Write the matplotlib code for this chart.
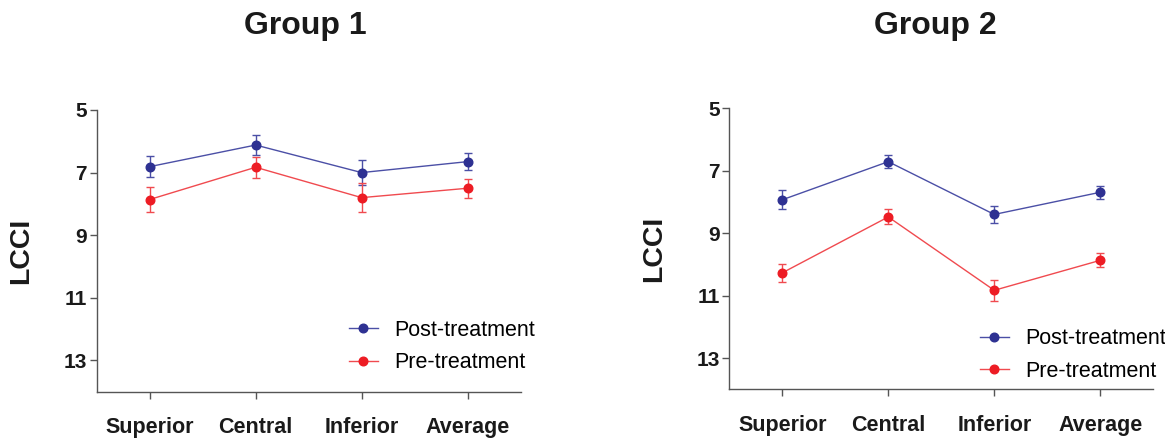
import matplotlib
matplotlib.use("Agg")
import matplotlib.pyplot as plt

plt.rcParams['font.family'] = ['Liberation Sans', 'DejaVu Sans']

regions = ["Superior", "Central", "Inferior", "Average"]

# Group 1
g1_post = [6.81, 6.12, 7.00, 6.65]
g1_post_err = [0.33, 0.32, 0.40, 0.28]
g1_pre = [7.86, 6.83, 7.80, 7.50]
g1_pre_err = [0.41, 0.33, 0.46, 0.31]

# Group 2
g2_post = [7.93, 6.71, 8.40, 7.69]
g2_post_err = [0.31, 0.20, 0.28, 0.20]
g2_pre = [10.27, 8.48, 10.83, 9.87]
g2_pre_err = [0.28, 0.24, 0.34, 0.22]

y_ticks = [5, 7, 9, 11, 13]

blue = '#2E3192'
blue_line = '#4B4FA6'
red = '#ED1C24'
red_line = '#F04A4F'


def draw_panel(ax, post, post_err, pre, pre_err, legend_anchor):
    x = range(len(regions))
    ax.errorbar(x, post, yerr=post_err, color=blue_line, lw=1.0, marker='o',
                ms=6.2, mfc=blue, mec=blue, capsize=3.2, elinewidth=1.0,
                capthick=1.0, label="Post-treatment", zorder=3)
    ax.errorbar(x, pre, yerr=pre_err, color=red_line, lw=1.0, marker='o',
                ms=6.2, mfc=red, mec=red, capsize=3.2, elinewidth=1.0,
                capthick=1.0, label="Pre-treatment", zorder=3)
    ax.set_xlim(-0.5, 3.5)
    ax.set_ylim(14, 5)
    ax.set_yticks(y_ticks)
    ax.set_xticks(list(x))
    ax.set_xticklabels(regions, fontsize=15.5, fontweight='bold', color='#1a1a1a')
    ax.set_yticklabels([str(t) for t in y_ticks], fontsize=15, fontweight='bold',
                       color='#1a1a1a')
    for s in ['top', 'right']:
        ax.spines[s].set_visible(False)
    for s in ['left', 'bottom']:
        ax.spines[s].set_color('#555555')
        ax.spines[s].set_linewidth(1.0)
    ax.tick_params(axis='both', direction='out', length=5, width=1.0,
                   color='#555555')
    ax.tick_params(axis='x', pad=13.5)
    ax.tick_params(axis='y', pad=2)
    ax.set_ylabel("LCCI", fontsize=20.5, fontweight='bold', color='#1a1a1a')
    handles, labels = ax.get_legend_handles_labels()
    handles = [h[0] for h in handles]
    ax.legend(handles, labels, loc='center left', bbox_to_anchor=legend_anchor,
              frameon=False, fontsize=15.5, handlelength=1.35,
              handletextpad=0.75, labelspacing=0.52, borderpad=0,
              borderaxespad=0)


fig = plt.figure(figsize=(11.65, 4.38), dpi=100)
ax1 = fig.add_axes([0.0830, 0.1057, 0.3639, 0.6432])
ax2 = fig.add_axes([0.6260, 0.1112, 0.3639, 0.6416])

draw_panel(ax1, g1_post, g1_post_err, g1_pre, g1_pre_err, (0.595, 0.160))
draw_panel(ax2, g2_post, g2_post_err, g2_pre, g2_pre_err, (0.591, 0.122))

ax1.yaxis.set_label_coords(-0.148, 0.5)
ax2.yaxis.set_label_coords(-0.147, 0.5)

fig.text(0.2618, 0.9406, "Group 1", fontsize=23, fontweight='bold',
         ha='center', va='center', color='#1a1a1a')
fig.text(0.8032, 0.9406, "Group 2", fontsize=23, fontweight='bold',
         ha='center', va='center', color='#1a1a1a')

fig.savefig("out.png", dpi=100)
